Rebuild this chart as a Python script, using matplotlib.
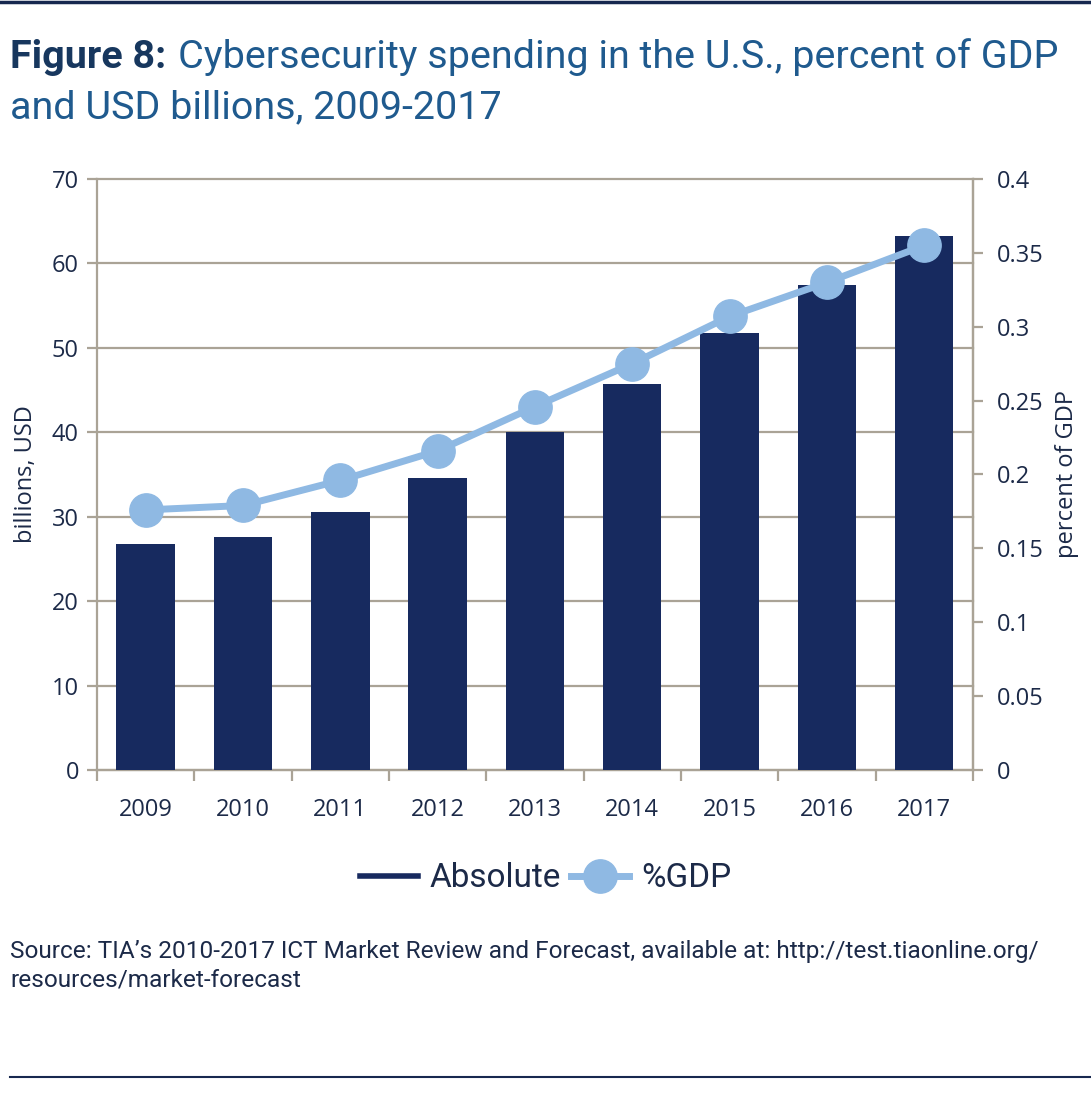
import numpy as np
import matplotlib.pyplot as plt
from matplotlib.lines import Line2D

years = ["2009", "2010", "2011", "2012", "2013", "2014", "2015", "2016", "2017"]
absolute = [26.8, 27.6, 30.6, 34.6, 40.0, 45.7, 51.8, 57.5, 63.2]
pct_gdp = [0.176, 0.179, 0.196, 0.216, 0.246, 0.275, 0.307, 0.330, 0.355]
gdp_labels = ["0", "0.05", "0.1", "0.15", "0.2", "0.25", "0.3", "0.35", "0.4"]

navy = "#172a5f"
light = "#8fb9e3"
grid_c = "#aaa396"
txt_c = "#1c2a48"
title_c = "#1f5a8e"
narrow = ['Roboto', 'DejaVu Sans']

plt.rcParams['font.family'] = ['Open Sans', 'DejaVu Sans']

fig = plt.figure(figsize=(10.91, 10.94), dpi=100)
ax = fig.add_axes([0.0889, 0.2962, 0.8029, 0.5402])
ax2 = ax.twinx()

x = np.arange(len(years))
ax.bar(x, absolute, width=0.6, color=navy, zorder=3)
ax.set_xlim(-0.5, len(years) - 0.5)
ax.set_ylim(0, 70)
ax.set_yticks(range(0, 71, 10))
ax.yaxis.grid(True, color=grid_c, linewidth=1.6, zorder=0)
for gl in ax.get_ygridlines():
    gl.set_clip_on(False)
ax.set_axisbelow(True)
ax.set_xticks(x)
ax.set_xticklabels(years)
ax.set_xticks(np.arange(-0.5, len(years)), minor=True)
ax.tick_params(axis='x', which='major', length=0, pad=20, labelsize=17, labelcolor=txt_c)
ax.tick_params(axis='x', which='minor', length=8, width=1.6, color=grid_c)
ax.tick_params(axis='y', length=7, width=1.6, color=grid_c, labelsize=17, labelcolor=txt_c, pad=6)
ax.spines['top'].set_visible(False)
for s in ['left', 'bottom', 'right']:
    ax.spines[s].set_color(grid_c)
    ax.spines[s].set_linewidth(1.6)
ax.set_ylabel("billions, USD", fontsize=17, color=txt_c, labelpad=10)

ax2.plot(x, pct_gdp, color=light, linewidth=5, marker='o', markersize=24, zorder=4)
ax2.set_ylim(0, 0.4)
ax2.set_yticks(np.arange(0, 0.41, 0.05))
ax2.set_yticklabels(gdp_labels)
ax2.tick_params(axis='y', length=7, width=1.6, color=grid_c, labelsize=17, labelcolor=txt_c, pad=10)
for s in ['top', 'left', 'bottom']:
    ax2.spines[s].set_visible(False)
ax2.spines['right'].set_color(grid_c)
ax2.spines['right'].set_linewidth(1.6)
ax2.set_ylabel("percent of GDP", fontsize=17, color=txt_c, labelpad=8)

handles = [Line2D([], [], color=navy, linewidth=4),
           Line2D([], [], color=light, linewidth=5, marker='o', markersize=24)]
fig.legend(handles, ["Absolute", "%GDP"], loc='center', bbox_to_anchor=(0.5, 0.197),
           ncol=2, frameon=False, prop={'family': narrow, 'stretch': 'condensed', 'size': 24},
           handlelength=1.75, columnspacing=0.3, handletextpad=0.35, labelcolor=txt_c)

renderer = fig.canvas.get_renderer()
W = fig.bbox.width


def fit(t, right_px):
    # shrink/grow a text so it ends at right_px
    bb = t.get_window_extent(renderer)
    t.set_fontsize(t.get_fontsize() * (right_px - bb.x0) / bb.width)
    return t


t1 = fig.text(10 / W, 1 - 68 / 1094, "Figure 8:", fontsize=28, fontweight='bold', color="#17375e",
              family=narrow, stretch='condensed', va='baseline')
bb1 = t1.get_window_extent(renderer)
t2 = fig.text((bb1.x1 + 12) / W, 1 - 68 / 1094, "Cybersecurity spending in the U.S., percent of GDP",
              fontsize=28, color=title_c, family=narrow, stretch='condensed', va='baseline')
bb2 = t2.get_window_extent(renderer)
scale = (1057 - 10) / (bb2.x1 - bb1.x0)
size = 28 * scale
t1.set_fontsize(size)
bb1 = t1.get_window_extent(renderer)
t2.set_fontsize(size)
t2.set_x((bb1.x1 + 12 * scale) / W)
fig.text(10 / W, 1 - 118 / 1094, "and USD billions, 2009-2017", fontsize=size,
         color=title_c, family=narrow, stretch='condensed', va='baseline')

s1 = fig.text(10 / W, 1 - 958 / 1094,
              "Source: TIA\u2019s 2010-2017 ICT Market Review and Forecast, available at: http://test.tiaonline.org/",
              fontsize=17, color=txt_c, family=narrow, stretch='condensed', va='baseline')
fit(s1, 1040)
fig.text(10 / W, 1 - 987 / 1094, "resources/market-forecast", fontsize=s1.get_fontsize(),
         color=txt_c, family=narrow, stretch='condensed', va='baseline')

fig.add_artist(Line2D([0, 1], [0.9985, 0.9985], color="#17284f", linewidth=2.5))
fig.add_artist(Line2D([0.009, 1], [0.0155, 0.0155], color="#17284f", linewidth=1.5))

fig.savefig("out.png", dpi=100)
